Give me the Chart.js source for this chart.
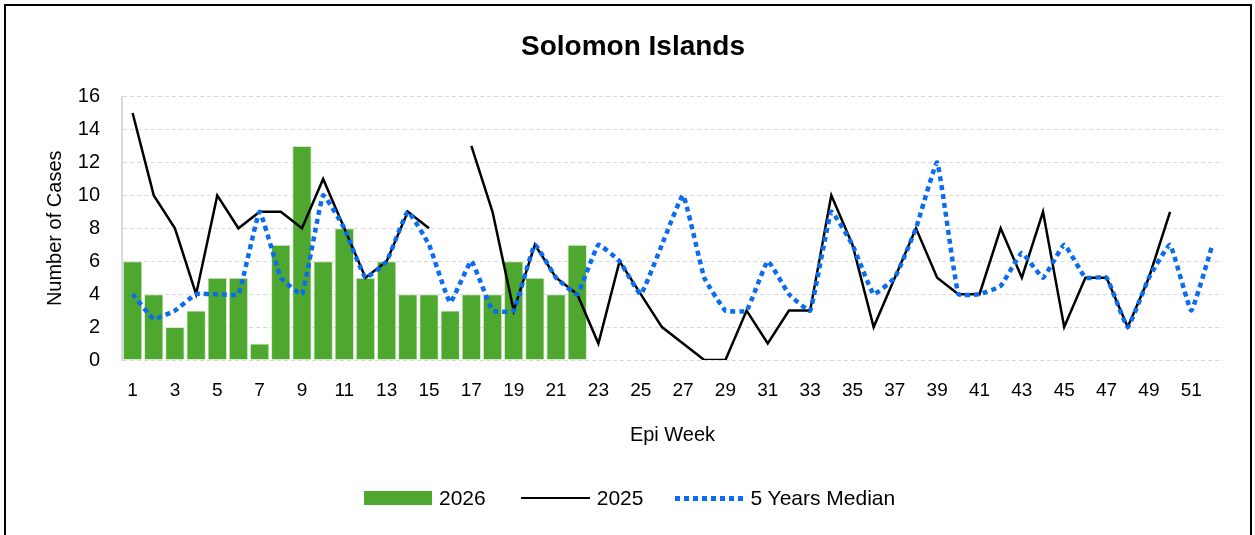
<!DOCTYPE html>
<html>
<head>
<meta charset="utf-8">
<script src="https://cdn.jsdelivr.net/npm/chart.js@4.4.1/dist/chart.umd.min.js"></script>
<style>
    html, body { margin: 0; padding: 0; background: #fff; overflow: hidden; }
    #frame {
        position: absolute; left: 4px; top: 4px;
        width: 1244px; height: 540px;
        border: 2px solid #000; border-bottom: none;
    }
    #wrap { position: absolute; left: 0; top: 0; width: 1255px; height: 535px; }
    #legend {
        position: absolute; left: 364px; top: 486px; height: 24px;
        display: flex; align-items: center;
        font-family: "Liberation Sans", Arial, sans-serif; font-size: 21px; color: #000;
    }
    #legend .item { display: flex; align-items: center; }
    #legend .mark { margin-right: 7px; }
    .m-bar { width: 68px; height: 14px; background: #4ea72e; }
    .m-line { width: 69px; height: 2.5px; background: #000; }
    .m-dots {
        width: 68px; height: 5px;
        background: repeating-linear-gradient(to right, #0a6cf0 0 5px, transparent 5px 9px);
    }
</style>
</head>
<body>
<div id="frame"></div>
<div id="wrap"><canvas id="chart"></canvas></div>
<div id="legend"></div>
<script>
// --- Data ---
const weeks = Array.from({ length: 52 }, (_, i) => String(i + 1));

const cases2026 = [6, 4, 2, 3, 5, 5, 1, 7, 13, 6, 8, 5, 6, 4, 4, 3, 4, 4, 6, 5, 4, 7];

const cases2025 = [15, 10, 8, 4, 10, 8, 9, 9, 8, 11, 8, 5, 6, 9, 8, null,
    13, 9, 3, 7, 5, 4, 1, 6, 4, 2, 1, 0, 0, 3, 1, 3, 3, 10, 7, 2, 5, 8,
    5, 4, 4, 8, 5, 9, 2, 5, 5, 2, 5, 9];

const median5y = [4, 2.5, 3, 4, 4, 4, 9, 5, 4, 10, 8, 5, 6, 9, 7, 3.5,
    6, 3, 3, 7, 5, 4, 7, 6, 4, 7, 10, 5, 3, 3, 6, 4, 3, 9, 7, 4, 5, 8,
    12, 4, 4, 4.5, 6.5, 5, 7, 5, 5, 2, 5, 7, 3, 7];

const yTicks = [0, 2, 4, 6, 8, 10, 12, 14, 16];

const seriesNames = ['2026', '2025', '5 Years Median'];

const FONT = '"Liberation Sans", Arial, sans-serif';

document.addEventListener('DOMContentLoaded', () => {
    const ctx = document.getElementById('chart');

    new Chart(ctx, {
        type: 'bar',
        data: {
            labels: weeks,
            datasets: [
                {
                    type: 'bar',
                    label: seriesNames[0],
                    data: cases2026,
                    backgroundColor: '#4ea72e',
                    borderColor: '#d9ead3',
                    borderWidth: 1,
                    categoryPercentage: 1.0,
                    barPercentage: 0.92,
                    order: 3
                },
                {
                    type: 'line',
                    label: seriesNames[1],
                    data: cases2025,
                    borderColor: '#000000',
                    borderWidth: 2.5,
                    pointRadius: 0,
                    tension: 0,
                    spanGaps: false,
                    fill: false,
                    order: 2
                },
                {
                    type: 'line',
                    label: seriesNames[2],
                    data: median5y,
                    borderColor: '#0a6cf0',
                    borderWidth: 4.5,
                    borderDash: [5, 4],
                    borderCapStyle: 'butt',
                    pointRadius: 0,
                    tension: 0.1,
                    fill: false,
                    order: 1
                }
            ]
        },
        options: {
            responsive: true,
            maintainAspectRatio: false,
            animation: false,
            layout: { padding: { left: 43, right: 32, top: 10, bottom: 88 } },
            scales: {
                x: {
                    afterFit: (axis) => { axis.height = 87; },
                    grid: { display: false },
                    border: { display: false },
                    ticks: {
                        autoSkip: false,
                        maxRotation: 0,
                        color: '#000',
                        font: { family: FONT, size: 19 },
                        padding: 11,
                        callback: function (val, i) {
                            return i % 2 === 0 ? weeks[i] : '';
                        }
                    },
                    title: {
                        display: true,
                        text: 'Epi Week',
                        color: '#000',
                        font: { family: FONT, size: 20 },
                        padding: { top: 21, bottom: 0 }
                    }
                },
                y: {
                    min: 0,
                    max: 16,
                    afterFit: (axis) => { axis.width = 79; },
                    afterBuildTicks: (axis) => {
                        axis.ticks = yTicks.map(v => ({ value: v }));
                    },
                    grid: {
                        color: '#d9d9d9',
                        lineWidth: 1,
                        drawTicks: false
                    },
                    border: { display: true, color: '#d9d9d9', width: 2, dash: [4, 3] },
                    ticks: {
                        color: '#000',
                        font: { family: FONT, size: 20 },
                        padding: 22
                    },
                    title: {
                        display: true,
                        text: 'Number of Cases',
                        color: '#000',
                        font: { family: FONT, size: 20 },
                        padding: { top: 0, bottom: 10 }
                    }
                }
            },
            plugins: {
                title: {
                    display: true,
                    text: 'Solomon Islands',
                    color: '#000',
                    font: { family: FONT, size: 28, weight: 'bold' },
                    padding: { top: 20, bottom: 33 }
                },
                legend: { display: false },
                tooltip: { enabled: false }
            }
        }
    });

    // --- HTML legend ---
    const marks = ['m-bar', 'm-line', 'm-dots'];
    const gaps = [35, 32, 0];
    const legend = document.getElementById('legend');
    seriesNames.forEach((name, i) => {
        const item = document.createElement('div');
        item.className = 'item';
        item.style.marginRight = gaps[i] + 'px';
        item.innerHTML = `<span class="mark ${marks[i]}"></span><span>${name}</span>`;
        legend.appendChild(item);
    });
});
</script>
</body>
</html>
